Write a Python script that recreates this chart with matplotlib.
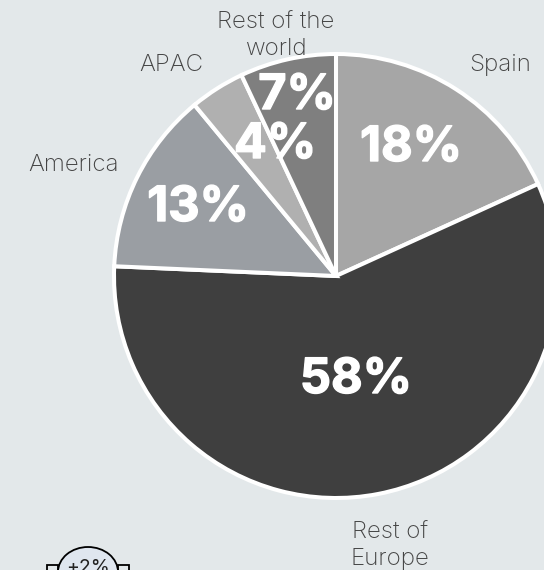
import matplotlib
matplotlib.use("Agg")
import matplotlib.pyplot as plt
import matplotlib.patheffects as pe
from matplotlib.patches import Ellipse, Rectangle

categories = ["Spain", "Rest of\nEurope", "America", "APAC", "Rest of the\nworld"]
shares = [18.2, 57.5, 13.3, 4, 7]
share_labels = ["18%", "58%", "13%", "4%", "7%"]
badge_label = "+2%"

colors = ["#a6a6a6", "#3f3f3f", "#9a9ea3", "#b0b0b0", "#7f7f7f"]
BG = "#e3e8ea"
W, H = 544, 570
Y = lambda py: H - py

plt.rcParams["font.family"] = ["Inter", "DejaVu Sans"]
fig = plt.figure(figsize=(W / 100, H / 100), dpi=100, facecolor=BG)
ax = fig.add_axes([0, 0, 1, 1])

ax.pie(shares, colors=colors, startangle=90, counterclock=False,
       center=(336, Y(276)), radius=222,
       wedgeprops=dict(edgecolor="white", linewidth=2.9), frame=True)
ax.set_xlim(0, W)
ax.set_ylim(0, H)
ax.set_aspect("equal")
ax.axis("off")

label_pos = [(500, 65), (390, 546), (74, 165), (171, 65), (276, 36)]
for cat, (x, y) in zip(categories, label_pos):
    ax.text(x, Y(y), cat, ha="center", va="center", fontsize=17.4,
            fontweight="light", color="#444444", linespacing=1.22)

pct_pos = [(411, 148), (356, 380), (198, 208), (275, 145), (297, 96)]
for s, (x, y) in zip(share_labels, pct_pos):
    t = ax.text(x, Y(y), s, ha="center", va="center", fontsize=35,
                fontweight="bold", color="white")
    t.set_path_effects([pe.withStroke(linewidth=1.0, foreground="white")])

# partly visible badge at the bottom edge
for x0 in (47, 118):
    ax.add_patch(Rectangle((x0, Y(585)), 11, 20, facecolor=BG, edgecolor="black", linewidth=1.3))
ax.add_patch(Ellipse((88, Y(572)), 60, 50, facecolor="#dfe6ef", edgecolor="black", linewidth=1.3, zorder=3))
ax.text(88, Y(568), badge_label, ha="center", va="center", fontsize=14, color="#222222", zorder=4)

fig.savefig("out.png", dpi=100, facecolor=BG)
